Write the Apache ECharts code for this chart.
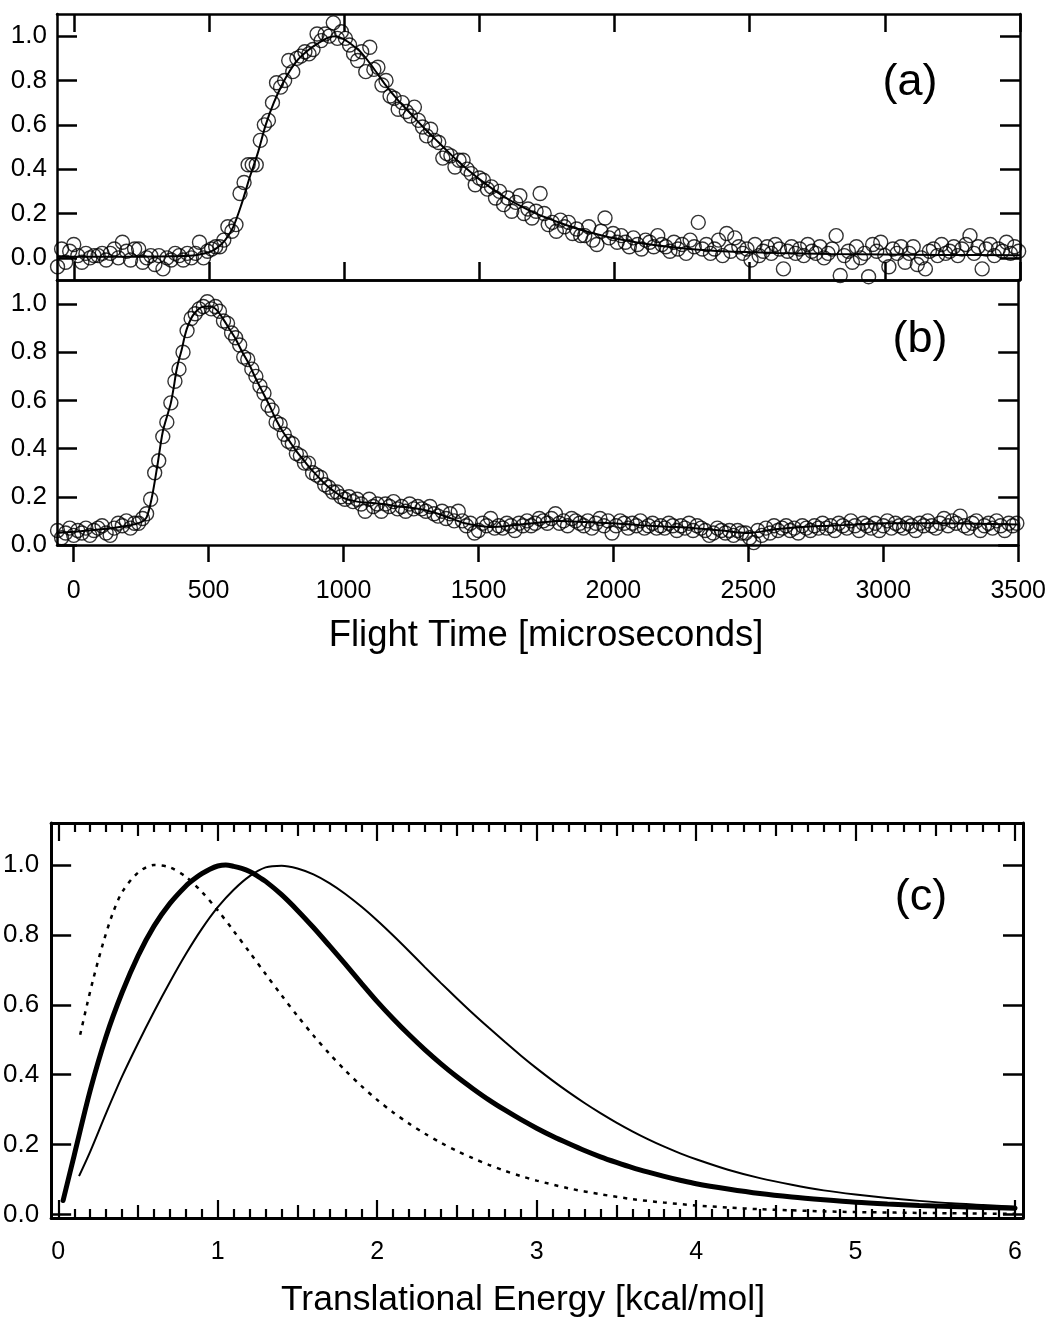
<!DOCTYPE html>
<html><head><meta charset="utf-8">
<script src="https://cdn.jsdelivr.net/npm/echarts@6/dist/echarts.min.js"></script>
<style>html,body{margin:0;padding:0;background:#fff}#chart{width:1049px;height:1323px}</style>
</head><body><div id="chart"></div>
<script>
// ---- time-of-flight channels (microseconds) ----
const tofTimes = [
-60,-45,-30,-15,0,15,30,45,60,75,
90,105,120,135,150,165,180,195,210,225,
240,255,270,285,300,315,330,345,360,375,
390,405,420,435,450,465,480,495,510,525,
540,555,570,585,600,615,630,645,660,675,
690,705,720,735,750,765,780,795,810,825,
840,855,870,885,900,915,930,945,960,975,
990,1005,1020,1035,1050,1065,1080,1095,1110,1125,
1140,1155,1170,1185,1200,1215,1230,1245,1260,1275,
1290,1305,1320,1335,1350,1365,1380,1395,1410,1425,
1440,1455,1470,1485,1500,1515,1530,1545,1560,1575,
1590,1605,1620,1635,1650,1665,1680,1695,1710,1725,
1740,1755,1770,1785,1800,1815,1830,1845,1860,1875,
1890,1905,1920,1935,1950,1965,1980,1995,2010,2025,
2040,2055,2070,2085,2100,2115,2130,2145,2160,2175,
2190,2205,2220,2235,2250,2265,2280,2295,2310,2325,
2340,2355,2370,2385,2400,2415,2430,2445,2460,2475,
2490,2505,2520,2535,2550,2565,2580,2595,2610,2625,
2640,2655,2670,2685,2700,2715,2730,2745,2760,2775,
2790,2805,2820,2835,2850,2865,2880,2895,2910,2925,
2940,2955,2970,2985,3000,3015,3030,3045,3060,3075,
3090,3105,3120,3135,3150,3165,3180,3195,3210,3225,
3240,3255,3270,3285,3300,3315,3330,3345,3360,3375,
3390,3405,3420,3435,3450,3465,3480,3495];

// ---- panel (a) measured signal ----
const signalA = [
-0.04,0.04,-0.02,0.03,0.06,0.01,-0.02,0.02,0.00,0.01,
0.01,0.02,-0.01,0.02,0.04,0.00,0.07,0.03,-0.01,0.04,
0.04,-0.02,0.00,0.01,-0.03,0.01,-0.05,0.00,-0.01,0.02,
0.01,-0.01,0.02,0.00,0.02,0.07,0.00,0.03,0.04,0.05,
0.05,0.08,0.14,0.12,0.15,0.29,0.34,0.42,0.42,0.42,
0.53,0.60,0.62,0.70,0.79,0.77,0.80,0.89,0.84,0.90,
0.91,0.93,0.92,0.94,1.01,0.98,1.01,1.00,1.06,0.99,
1.02,0.99,0.96,0.92,0.89,0.93,0.84,0.95,0.85,0.86,
0.78,0.80,0.73,0.72,0.67,0.70,0.66,0.64,0.68,0.62,
0.59,0.55,0.58,0.53,0.52,0.45,0.47,0.46,0.41,0.44,
0.44,0.40,0.38,0.33,0.36,0.35,0.31,0.32,0.27,0.30,
0.24,0.27,0.21,0.25,0.28,0.20,0.22,0.18,0.21,0.29,
0.20,0.15,0.16,0.12,0.17,0.14,0.16,0.11,0.13,0.10,
0.10,0.14,0.08,0.06,0.12,0.18,0.09,0.11,0.07,0.10,
0.07,0.05,0.09,0.06,0.04,0.08,0.07,0.05,0.10,0.06,
0.05,0.03,0.07,0.04,0.06,0.02,0.08,0.05,0.16,0.04,
0.06,0.02,0.04,0.08,0.01,0.11,0.03,0.09,0.05,0.02,
0.04,-0.01,0.06,0.01,0.03,0.05,0.02,0.06,0.04,-0.05,
0.03,0.05,0.02,0.04,0.01,0.06,0.03,0.02,0.05,0.00,
0.02,0.04,0.10,-0.08,0.01,0.03,-0.02,0.05,0.00,0.02,
-0.085,0.06,0.03,0.07,0.01,-0.04,0.04,0.02,0.05,-0.02,
0.02,0.05,-0.03,0.00,-0.05,0.03,0.04,0.01,0.06,0.02,
0.03,0.05,0.01,0.04,0.06,0.10,0.02,0.05,-0.05,0.04,
0.06,0.01,0.04,0.03,0.07,0.02,0.05,0.03];

// ---- panel (b) measured signal ----
const signalB = [
0.06,0.03,0.05,0.07,0.04,0.06,0.05,0.07,0.04,0.06,
0.07,0.08,0.05,0.04,0.07,0.09,0.08,0.10,0.07,0.09,
0.09,0.11,0.13,0.19,0.30,0.35,0.45,0.51,0.59,0.68,
0.73,0.80,0.89,0.94,0.96,0.98,0.99,1.01,0.98,0.99,
0.97,0.93,0.92,0.88,0.86,0.83,0.78,0.77,0.73,0.70,
0.66,0.63,0.58,0.56,0.51,0.50,0.46,0.43,0.42,0.38,
0.37,0.34,0.34,0.30,0.29,0.28,0.25,0.24,0.22,0.22,
0.20,0.19,0.20,0.18,0.19,0.17,0.14,0.19,0.16,0.17,
0.14,0.17,0.16,0.18,0.15,0.16,0.14,0.17,0.15,0.16,
0.15,0.14,0.16,0.13,0.12,0.14,0.11,0.13,0.10,0.14,
0.10,0.08,0.09,0.05,0.06,0.09,0.08,0.11,0.07,0.08,
0.07,0.09,0.08,0.06,0.09,0.08,0.10,0.08,0.09,0.11,
0.10,0.09,0.11,0.13,0.09,0.10,0.08,0.11,0.10,0.09,
0.08,0.10,0.07,0.09,0.11,0.08,0.10,0.05,0.08,0.10,
0.09,0.07,0.09,0.08,0.10,0.07,0.08,0.09,0.07,0.08,
0.07,0.09,0.08,0.06,0.08,0.07,0.09,0.06,0.08,0.07,
0.06,0.04,0.05,0.07,0.06,0.05,0.06,0.04,0.06,0.05,
0.05,0.03,0.01,0.06,0.04,0.07,0.05,0.08,0.06,0.07,
0.08,0.06,0.07,0.05,0.08,0.07,0.06,0.08,0.07,0.09,
0.07,0.08,0.06,0.09,0.08,0.07,0.10,0.08,0.06,0.09,
0.08,0.07,0.09,0.06,0.08,0.10,0.07,0.09,0.08,0.07,
0.09,0.08,0.06,0.09,0.08,0.10,0.08,0.07,0.09,0.11,
0.08,0.10,0.09,0.12,0.08,0.07,0.09,0.10,0.06,0.08,
0.09,0.07,0.10,0.08,0.06,0.09,0.08,0.09];

// ---- fitted curves (a), (b) ----
const fitATimes = [-62,0,100,200,300,400,450,500,530,560,590,620,650,680,710,740,770,800,830,860,900,940,970,1000,1030,1060,1100,1150,1200,1250,1300,1350,1400,1450,1500,1550,1600,1650,1700,1750,1800,1850,1900,1950,2000,2100,2200,2300,2400,2600,2800,3000,3200,3500];
const fitA = [0.005,0.005,0.005,0.005,0.006,0.008,0.012,0.025,0.045,0.08,0.14,0.24,0.36,0.47,0.6,0.7,0.78,0.845,0.895,0.93,0.965,0.993,1.0,0.985,0.96,0.93,0.87,0.785,0.71,0.645,0.58,0.52,0.46,0.405,0.355,0.31,0.27,0.235,0.205,0.18,0.157,0.136,0.118,0.102,0.088,0.066,0.05,0.038,0.03,0.022,0.017,0.015,0.013,0.012];
const fitBTimes = [-62,0,100,200,250,270,290,310,330,350,360,370,380,390,400,410,420,435,450,470,490,510,530,550,575,600,625,650,675,700,725,750,775,800,825,850,875,900,925,950,975,1000,1050,1100,1150,1200,1250,1300,1350,1400,1450,1500,1550,1600,1700,1800,1900,2000,2100,2200,2300,2400,2500,2600,2700,2800,2900,3000,3200,3500];
const fitB = [0.05,0.055,0.065,0.08,0.095,0.115,0.2,0.33,0.47,0.55,0.59,0.65,0.72,0.77,0.81,0.86,0.9,0.94,0.965,0.985,0.99,0.99,0.975,0.945,0.9,0.855,0.8,0.75,0.69,0.635,0.58,0.52,0.47,0.43,0.39,0.355,0.32,0.29,0.26,0.235,0.215,0.195,0.18,0.175,0.17,0.16,0.155,0.145,0.13,0.11,0.09,0.08,0.075,0.078,0.09,0.1,0.095,0.09,0.082,0.076,0.07,0.06,0.05,0.065,0.075,0.08,0.085,0.09,0.09,0.085];

// ---- panel (c) translational energy distributions ----
const energyThick = [0.03,0.1,0.2,0.3,0.4,0.5,0.6,0.7,0.8,0.85,0.9,0.95,1.0,1.05,1.1,1.15,1.2,1.25,1.3,1.4,1.5,1.6,1.7,1.8,1.9,2.0,2.1,2.2,2.3,2.4,2.5,2.6,2.7,2.8,2.9,3.0,3.1,3.2,3.3,3.4,3.5,3.6,3.7,3.8,3.9,4.0,4.2,4.4,4.6,4.8,5.0,5.2,5.4,5.6,5.8,6.0];
const pThick = [0.04,0.17,0.355,0.51,0.635,0.74,0.825,0.89,0.94,0.959,0.975,0.988,0.997,1.0,0.996,0.99,0.981,0.968,0.953,0.915,0.87,0.821,0.769,0.716,0.662,0.609,0.56,0.514,0.471,0.431,0.394,0.36,0.328,0.299,0.272,0.247,0.224,0.203,0.183,0.165,0.149,0.134,0.121,0.109,0.098,0.088,0.073,0.06,0.05,0.042,0.035,0.03,0.026,0.023,0.02,0.018];
const energyThin = [0.13,0.2,0.3,0.4,0.5,0.6,0.7,0.8,0.9,1.0,1.1,1.2,1.3,1.4,1.5,1.6,1.7,1.8,1.9,2.0,2.1,2.2,2.3,2.4,2.5,2.6,2.7,2.8,2.9,3.0,3.1,3.2,3.3,3.4,3.5,3.6,3.7,3.8,3.9,4.0,4.2,4.4,4.6,4.8,5.0,5.2,5.4,5.6,5.8,6.0];
const pThin = [0.11,0.18,0.29,0.395,0.49,0.58,0.665,0.745,0.817,0.879,0.929,0.968,0.993,0.998,0.99,0.973,0.948,0.917,0.881,0.841,0.798,0.753,0.707,0.662,0.618,0.575,0.534,0.494,0.455,0.418,0.383,0.35,0.319,0.29,0.263,0.238,0.215,0.194,0.175,0.158,0.128,0.104,0.085,0.069,0.057,0.047,0.039,0.032,0.027,0.022];
const energyDash = [0.137,0.18,0.22,0.28,0.34,0.4,0.5,0.6,0.7,0.8,0.9,1.0,1.1,1.2,1.3,1.4,1.5,1.6,1.7,1.8,1.9,2.0,2.1,2.2,2.3,2.4,2.5,2.6,2.7,2.8,2.9,3.0,3.2,3.4,3.6,3.8,4.0,4.2,4.4,4.6,4.8,5.0,5.5,6.0];
const pDash = [0.514,0.6,0.675,0.775,0.86,0.922,0.978,1.0,0.993,0.966,0.923,0.87,0.811,0.75,0.688,0.627,0.568,0.512,0.46,0.412,0.368,0.328,0.292,0.26,0.231,0.205,0.182,0.161,0.142,0.125,0.11,0.097,0.075,0.058,0.044,0.034,0.026,0.02,0.015,0.012,0.009,0.007,0.004,0.002];

// ---- ticks and labels ----
const tofTicks = [0,500,1000,1500,2000,2500,3000,3500];
const intensityTicks = [0,0.2,0.4,0.6,0.8,1.0];
const energyTicks = [0,1,2,3,4,5,6];
const energyHalfTicks = [0.5,1.5,2.5,3.5,4.5,5.5];
const energyMinorTicks = [0.1,0.2,0.3,0.4,0.6,0.7,0.8,0.9,1.1,1.2,1.3,1.4,1.6,1.7,1.8,1.9,2.1,2.2,2.3,2.4,2.6,2.7,2.8,2.9,3.1,3.2,3.3,3.4,3.6,3.7,3.8,3.9,4.1,4.2,4.3,4.4,4.6,4.7,4.8,4.9,5.1,5.2,5.3,5.4,5.6,5.7,5.8,5.9];
const panelLabels = ['(a)','(b)','(c)'];
const axisTitles = ['Flight Time [microseconds]','Translational Energy [kcal/mol]'];

const FONT = '"Liberation Sans", Arial, Helvetica, sans-serif';
const K = '#000';
const zip = (xs, ys) => xs.slice(0, Math.min(xs.length, ys.length)).map((x, i) => [x, ys[i]]);

function ax(gridIndex, position, min, max, o) {
  return {
    type: 'value', gridIndex, position, min, max,
    axisLine: { show: o.line !== false, onZero: false, lineStyle: { color: K, width: o.lw || 2.5 } },
    axisTick: { show: !!o.ticks, inside: o.inside !== false, length: o.len || 18,
      customValues: o.ticks, lineStyle: { color: K, width: o.tw || 2.5 } },
    axisLabel: { show: !!o.labels, customValues: o.labels, margin: o.margin || 10, color: K,
      fontSize: o.fs || 26, fontFamily: FONT, formatter: o.fmt },
    splitLine: { show: false }, minorTick: { show: false }, minorSplitLine: { show: false }
  };
}
const f1 = v => Number(v).toFixed(1);
const f0 = v => String(Math.round(v));

const TMIN = -62, TMAX = 3500;
const option = {
  animation: false,
  backgroundColor: '#fff',
  grid: [
    { left: 57, top: 14, width: 963, height: 266 },
    { left: 57, top: 280, width: 963, height: 265 },
    { left: 45, top: 823, width: 978, height: 395 }
  ],
  xAxis: [
    ax(0, 'bottom', TMIN, TMAX, { ticks: tofTicks, len: 18 }),
    ax(0, 'top', TMIN, TMAX, { ticks: tofTicks, len: 18 }),
    ax(1, 'bottom', TMIN, TMAX, { ticks: tofTicks, len: 17, inside: false, labels: tofTicks, fmt: f0, fs: 25, margin: 34 }),
    ax(1, 'top', TMIN, TMAX, {}),
    ax(2, 'bottom', -0.045, 6.05, { ticks: energyTicks, len: 18, labels: energyTicks, fmt: f0, fs: 25, margin: 22, lw: 3, tw: 2.2 }),
    ax(2, 'bottom', -0.045, 6.05, { ticks: energyHalfTicks, len: 13, line: false, tw: 2.2 }),
    ax(2, 'bottom', -0.045, 6.05, { ticks: energyMinorTicks, len: 9, line: false, tw: 2.2 }),
    ax(2, 'top', -0.045, 6.05, { ticks: energyTicks, len: 18, lw: 3, tw: 2.2 }),
    ax(2, 'top', -0.045, 6.05, { ticks: energyHalfTicks, len: 13, line: false, tw: 2.2 }),
    ax(2, 'top', -0.045, 6.05, { ticks: energyMinorTicks, len: 9, line: false, tw: 2.2 })
  ],
  yAxis: [
    ax(0, 'left', -0.1, 1.1, { ticks: intensityTicks, len: 20, labels: intensityTicks, fmt: f1 }),
    ax(0, 'right', -0.1, 1.1, { ticks: intensityTicks, len: 20 }),
    ax(1, 'left', 0, 1.1, { ticks: intensityTicks, len: 20, labels: intensityTicks, fmt: f1 }),
    ax(1, 'right', 0, 1.1, { ticks: intensityTicks, len: 20 }),
    ax(2, 'left', -0.01, 1.12, { ticks: intensityTicks, len: 20, labels: intensityTicks, fmt: f1, lw: 3, margin: 12 }),
    ax(2, 'right', -0.01, 1.12, { ticks: intensityTicks, len: 20, lw: 3 })
  ],
  series: [
    { type: 'scatter', xAxisIndex: 0, yAxisIndex: 0, data: zip(tofTimes, signalA),
      symbol: 'circle', symbolSize: 14,
      itemStyle: { color: 'rgba(0,0,0,0)', borderColor: K, borderWidth: 1.4 } },
    { type: 'line', xAxisIndex: 0, yAxisIndex: 0, data: zip(fitATimes, fitA), showSymbol: false,
      smooth: 0.3, lineStyle: { color: K, width: 2 }, z: 5 },
    { type: 'scatter', xAxisIndex: 2, yAxisIndex: 2, data: zip(tofTimes, signalB),
      symbol: 'circle', symbolSize: 14,
      itemStyle: { color: 'rgba(0,0,0,0)', borderColor: K, borderWidth: 1.4 } },
    { type: 'line', xAxisIndex: 2, yAxisIndex: 2, data: zip(fitBTimes, fitB), showSymbol: false,
      smooth: 0.3, lineStyle: { color: K, width: 2 }, z: 5 },
    { type: 'line', xAxisIndex: 4, yAxisIndex: 4, data: zip(energyThick, pThick), showSymbol: false,
      smooth: 0.3, lineStyle: { color: K, width: 5, cap: 'round' } },
    { type: 'line', xAxisIndex: 4, yAxisIndex: 4, data: zip(energyThin, pThin), showSymbol: false,
      smooth: 0.3, lineStyle: { color: K, width: 2 } },
    { type: 'line', xAxisIndex: 4, yAxisIndex: 4, data: zip(energyDash, pDash), showSymbol: false,
      smooth: 0.3, lineStyle: { color: K, width: 2.5, type: [4, 6] } }
  ],
  graphic: [
    { type: 'text', x: 910, y: 83, style: { text: panelLabels[0], fontSize: 45, fontFamily: FONT, fill: K, align: 'center', verticalAlign: 'middle' } },
    { type: 'text', x: 920, y: 340, style: { text: panelLabels[1], fontSize: 45, fontFamily: FONT, fill: K, align: 'center', verticalAlign: 'middle' } },
    { type: 'text', x: 921, y: 898, style: { text: panelLabels[2], fontSize: 45, fontFamily: FONT, fill: K, align: 'center', verticalAlign: 'middle' } },
    { type: 'text', x: 546, y: 636, style: { text: axisTitles[0], fontSize: 36.5, fontFamily: FONT, fill: K, align: 'center', verticalAlign: 'middle' } },
    { type: 'text', x: 523, y: 1300, style: { text: axisTitles[1], fontSize: 35.5, fontFamily: FONT, fill: K, align: 'center', verticalAlign: 'middle' } }
  ]
};
const chart = echarts.init(document.getElementById('chart'), null, { renderer: 'canvas' });
chart.setOption(option);
</script></body></html>
